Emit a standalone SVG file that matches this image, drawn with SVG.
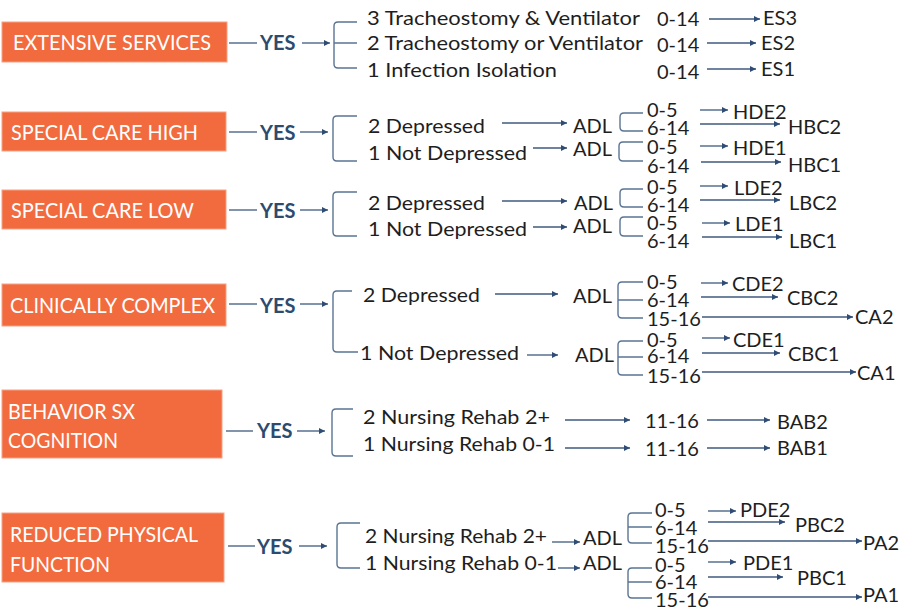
<svg xmlns="http://www.w3.org/2000/svg" width="901" height="608" viewBox="0 0 901 608">
<defs>
<marker id="ah" viewBox="0 0 10 10" refX="10" refY="5" markerWidth="7" markerHeight="6" markerUnits="userSpaceOnUse" orient="auto">
<path d="M0,0 L10,5 L0,10 z" fill="#2F4D74"/>
</marker>
<style>
.box{fill:#F26B3E;stroke:#F5A285;stroke-width:1}
.bt{font-family:Lato,"Liberation Sans",sans-serif;font-size:21px;fill:#FFFFFF}
.yes{font-family:Lato,"Liberation Sans",sans-serif;font-size:20px;font-weight:bold;fill:#2D4B6E}
.t{font-family:Lato,"Liberation Sans",sans-serif;font-size:20px;fill:#1E1E1E}
.ln{stroke:#3F5A7E;stroke-width:1.3;fill:none}
.ar{stroke:#3F5A7E;stroke-width:1.3;fill:none;marker-end:url(#ah)}
.br{stroke:#5A7494;stroke-width:1.4;fill:none}
</style>
</defs>
<rect width="901" height="608" fill="#FFFFFF"/>

<g id="n-extensive">
<rect class="box" x="2" y="22" width="225" height="40"/>
<text class="bt" x="13" y="50" textLength="198" lengthAdjust="spacingAndGlyphs">EXTENSIVE SERVICES</text>
<text class="yes" x="260" y="50">YES</text>
<text class="t" x="367" y="25" textLength="273" lengthAdjust="spacingAndGlyphs">3 Tracheostomy &amp; Ventilator</text>
<text class="t" x="367" y="50" textLength="276" lengthAdjust="spacingAndGlyphs">2 Tracheostomy or Ventilator</text>
<text class="t" x="367" y="77" textLength="190" lengthAdjust="spacingAndGlyphs">1 Infection Isolation</text>
<text class="t" x="657" y="26">0-14</text>
<text class="t" x="657" y="52">0-14</text>
<text class="t" x="657" y="79">0-14</text>
<text class="t" x="763" y="25">ES3</text>
<text class="t" x="761" y="50">ES2</text>
<text class="t" x="761" y="76">ES1</text>
</g>

<g id="n-sch">
<rect class="box" x="2" y="112" width="224" height="39"/>
<text class="bt" x="11" y="140" textLength="187" lengthAdjust="spacingAndGlyphs">SPECIAL CARE HIGH</text>
<text class="yes" x="260" y="140">YES</text>
<text class="t" x="368" y="133" textLength="117" lengthAdjust="spacingAndGlyphs">2 Depressed</text>
<text class="t" x="368" y="160" textLength="159" lengthAdjust="spacingAndGlyphs">1 Not Depressed</text>
<text class="t" x="573" y="133">ADL</text>
<text class="t" x="573" y="156">ADL</text>
<text class="t" x="647" y="117">0-5</text>
<text class="t" x="647" y="135">6-14</text>
<text class="t" x="647" y="154">0-5</text>
<text class="t" x="647" y="173">6-14</text>
<text class="t" x="733" y="119">HDE2</text>
<text class="t" x="788" y="134">HBC2</text>
<text class="t" x="733" y="155">HDE1</text>
<text class="t" x="788" y="172">HBC1</text>
</g>

<g id="n-scl">
<rect class="box" x="2" y="190" width="224" height="39"/>
<text class="bt" x="11" y="218" textLength="183" lengthAdjust="spacingAndGlyphs">SPECIAL CARE LOW</text>
<text class="yes" x="260" y="218">YES</text>
<text class="t" x="368" y="210" textLength="117" lengthAdjust="spacingAndGlyphs">2 Depressed</text>
<text class="t" x="368" y="236" textLength="159" lengthAdjust="spacingAndGlyphs">1 Not Depressed</text>
<text class="t" x="574" y="210">ADL</text>
<text class="t" x="573" y="233">ADL</text>
<text class="t" x="647" y="194">0-5</text>
<text class="t" x="647" y="212">6-14</text>
<text class="t" x="647" y="230">0-5</text>
<text class="t" x="647" y="248">6-14</text>
<text class="t" x="734" y="195">LDE2</text>
<text class="t" x="789" y="210">LBC2</text>
<text class="t" x="735" y="231">LDE1</text>
<text class="t" x="789" y="248">LBC1</text>
</g>

<g id="n-cc">
<rect class="box" x="2" y="284" width="224" height="42"/>
<text class="bt" x="10" y="313" textLength="205" lengthAdjust="spacingAndGlyphs">CLINICALLY COMPLEX</text>
<text class="yes" x="260" y="313">YES</text>
<text class="t" x="363" y="302" textLength="117" lengthAdjust="spacingAndGlyphs">2 Depressed</text>
<text class="t" x="360" y="360" textLength="159" lengthAdjust="spacingAndGlyphs">1 Not Depressed</text>
<text class="t" x="573" y="303">ADL</text>
<text class="t" x="575" y="362">ADL</text>
<text class="t" x="647" y="289">0-5</text>
<text class="t" x="647" y="307">6-14</text>
<text class="t" x="647" y="326">15-16</text>
<text class="t" x="647" y="347">0-5</text>
<text class="t" x="647" y="363">6-14</text>
<text class="t" x="647" y="383">15-16</text>
<text class="t" x="732" y="291">CDE2</text>
<text class="t" x="787" y="305">CBC2</text>
<text class="t" x="855" y="324">CA2</text>
<text class="t" x="733" y="347">CDE1</text>
<text class="t" x="788" y="361">CBC1</text>
<text class="t" x="857" y="380">CA1</text>
</g>

<g id="n-bsc">
<rect class="box" x="2" y="390" width="220" height="68"/>
<text class="bt" x="8" y="419" textLength="127" lengthAdjust="spacingAndGlyphs">BEHAVIOR SX</text>
<text class="bt" x="8" y="448" textLength="110" lengthAdjust="spacingAndGlyphs">COGNITION</text>
<text class="yes" x="257" y="438">YES</text>
<text class="t" x="363" y="424" textLength="187" lengthAdjust="spacingAndGlyphs">2 Nursing Rehab 2+</text>
<text class="t" x="363" y="451" textLength="192" lengthAdjust="spacingAndGlyphs">1 Nursing Rehab 0-1</text>
<text class="t" x="645" y="428">11-16</text>
<text class="t" x="645" y="456">11-16</text>
<text class="t" x="777" y="429">BAB2</text>
<text class="t" x="777" y="455">BAB1</text>
</g>

<g id="n-rpf">
<rect class="box" x="2" y="513" width="222" height="69"/>
<text class="bt" x="10" y="542" textLength="188" lengthAdjust="spacingAndGlyphs">REDUCED PHYSICAL</text>
<text class="bt" x="10" y="572" textLength="100" lengthAdjust="spacingAndGlyphs">FUNCTION</text>
<text class="yes" x="257" y="554">YES</text>
<text class="t" x="365" y="543" textLength="182" lengthAdjust="spacingAndGlyphs">2 Nursing Rehab 2+</text>
<text class="t" x="365" y="570" textLength="192" lengthAdjust="spacingAndGlyphs">1 Nursing Rehab 0-1</text>
<text class="t" x="583" y="545">ADL</text>
<text class="t" x="583" y="570">ADL</text>
<text class="t" x="655" y="517">0-5</text>
<text class="t" x="655" y="535">6-14</text>
<text class="t" x="655" y="553">15-16</text>
<text class="t" x="655" y="572">0-5</text>
<text class="t" x="655" y="589">6-14</text>
<text class="t" x="655" y="607">15-16</text>
<text class="t" x="740" y="517">PDE2</text>
<text class="t" x="795" y="532">PBC2</text>
<text class="t" x="863" y="550">PA2</text>
<text class="t" x="743" y="570">PDE1</text>
<text class="t" x="797" y="585">PBC1</text>
<text class="t" x="863" y="602">PA1</text>
</g>

<g id="connectors">
<!-- Extensive -->
<line class="ln" x1="229" y1="43" x2="257" y2="43"/>
<line class="ar" x1="302" y1="43" x2="330" y2="43"/>
<path class="br" d="M357,22 H338 Q334,22 334,26 V64 Q334,68 338,68 H357 M334,43 H357"/>
<line class="ar" x1="709" y1="19" x2="760" y2="19"/>
<line class="ar" x1="707" y1="43" x2="756" y2="43"/>
<line class="ar" x1="707" y1="69" x2="756" y2="69"/>
<!-- Special care high -->
<line class="ln" x1="229" y1="132" x2="257" y2="132"/>
<line class="ar" x1="300" y1="132" x2="328" y2="132"/>
<path class="br" d="M357,116 H337 Q333,116 333,120 V157 Q333,161 337,161 H357"/>
<line class="ar" x1="502" y1="123" x2="567" y2="123"/>
<line class="ar" x1="533" y1="148" x2="567" y2="148"/>
<path class="br" d="M643,113 H624 Q620,113 620,117 V127 Q620,131 624,131 H643"/>
<path class="br" d="M643,142 H623 Q619,142 619,146 V157 Q619,161 623,161 H643"/>
<line class="ar" x1="700" y1="110" x2="728" y2="110"/>
<line class="ar" x1="700" y1="124" x2="780" y2="124"/>
<line class="ar" x1="700" y1="146" x2="728" y2="146"/>
<line class="ar" x1="701" y1="162" x2="781" y2="162"/>
<!-- Special care low -->
<line class="ln" x1="229" y1="210" x2="257" y2="210"/>
<line class="ar" x1="300" y1="210" x2="328" y2="210"/>
<path class="br" d="M357,192 H337 Q333,192 333,196 V232 Q333,236 337,236 H357"/>
<line class="ar" x1="502" y1="201" x2="567" y2="201"/>
<line class="ar" x1="533" y1="227" x2="567" y2="227"/>
<path class="br" d="M643,189 H624 Q620,189 620,193 V203 Q620,207 624,207 H643"/>
<path class="br" d="M643,217 H624 Q620,217 620,221 V232 Q620,236 624,236 H643"/>
<line class="ar" x1="700" y1="186" x2="728" y2="186"/>
<line class="ar" x1="700" y1="200" x2="780" y2="200"/>
<line class="ar" x1="702" y1="223" x2="730" y2="223"/>
<line class="ar" x1="702" y1="237" x2="782" y2="237"/>
<!-- Clinically complex -->
<line class="ln" x1="229" y1="304" x2="257" y2="304"/>
<line class="ar" x1="300" y1="304" x2="328" y2="304"/>
<path class="br" d="M352,291 H337 Q333,291 333,295 V348 Q333,352 337,352 H358"/>
<line class="ar" x1="495" y1="294" x2="558" y2="294"/>
<line class="ar" x1="527" y1="355" x2="558" y2="355"/>
<path class="br" d="M643,282 H622 Q618,282 618,286 V314 Q618,318 622,318 H643 M618,300 H643"/>
<path class="br" d="M643,341 H622 Q618,341 618,345 V371 Q618,375 622,375 H643 M618,357 H643"/>
<line class="ar" x1="701" y1="283" x2="728" y2="283"/>
<line class="ar" x1="701" y1="297" x2="778" y2="297"/>
<line class="ar" x1="702" y1="317" x2="853" y2="317"/>
<line class="ar" x1="702" y1="338" x2="730" y2="338"/>
<line class="ar" x1="702" y1="353" x2="780" y2="353"/>
<line class="ar" x1="702" y1="372" x2="856" y2="372"/>
<!-- Behavior -->
<line class="ln" x1="226" y1="431" x2="253" y2="431"/>
<line class="ar" x1="297" y1="431" x2="325" y2="431"/>
<path class="br" d="M353,409 H336 Q332,409 332,413 V452 Q332,456 336,456 H353"/>
<line class="ar" x1="565" y1="420" x2="630" y2="420"/>
<line class="ar" x1="565" y1="448" x2="630" y2="448"/>
<line class="ar" x1="707" y1="420" x2="770" y2="420"/>
<line class="ar" x1="707" y1="448" x2="770" y2="448"/>
<!-- Reduced physical function -->
<line class="ln" x1="228" y1="546" x2="255" y2="546"/>
<line class="ar" x1="299" y1="546" x2="327" y2="546"/>
<path class="br" d="M360,523 H341 Q337,523 337,527 V564 Q337,568 341,568 H360"/>
<line class="ar" x1="552" y1="542" x2="580" y2="542"/>
<line class="ar" x1="558" y1="568" x2="580" y2="568"/>
<path class="br" d="M652,513 H632 Q628,513 628,517 V539 Q628,543 632,543 H652 M628,527 H652"/>
<path class="br" d="M652,568 H632 Q628,568 628,572 V594 Q628,598 632,598 H652 M628,582 H652"/>
<line class="ar" x1="708" y1="511" x2="736" y2="511"/>
<line class="ar" x1="708" y1="522" x2="785" y2="522"/>
<line class="ar" x1="708" y1="541" x2="862" y2="541"/>
<line class="ar" x1="708" y1="562" x2="736" y2="562"/>
<line class="ar" x1="708" y1="577" x2="783" y2="577"/>
<line class="ar" x1="708" y1="597" x2="862" y2="597"/>
</g>
</svg>
